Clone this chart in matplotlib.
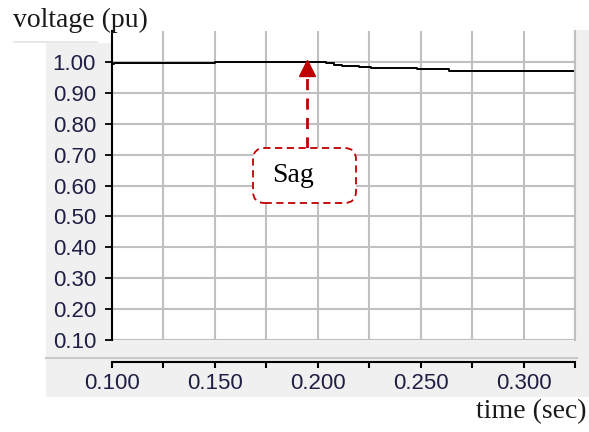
import numpy as np
import matplotlib.pyplot as plt
from matplotlib.patches import FancyBboxPatch, Rectangle
from matplotlib.ticker import MultipleLocator

# voltage trace
time_s = [0.100, 0.101, 0.125, 0.150, 0.175, 0.190, 0.196, 0.200, 0.204,
          0.208, 0.212, 0.216, 0.220, 0.226, 0.232, 0.240, 0.248, 0.256,
          0.262, 0.264, 0.280, 0.300, 0.310, 0.324]
voltage = [0.994, 0.998, 0.998, 0.999, 0.999, 1.000, 1.001, 1.000, 0.995,
           0.990, 0.988, 0.986, 0.984, 0.981, 0.980, 0.979, 0.978, 0.977,
           0.976, 0.972, 0.972, 0.972, 0.972, 0.972]

y_ticks = [0.10, 0.20, 0.30, 0.40, 0.50, 0.60, 0.70, 0.80, 0.90, 1.00]
x_ticks = [0.100, 0.150, 0.200, 0.250, 0.300]

sag_label = "Sag"
sag_time = 0.1946
sag_from, sag_to = 0.72, 0.985

tick_col = '#1f1f45'
red = '#c00000'

fig = plt.figure(figsize=(5.89, 4.32), dpi=100)
W, H = 589, 432
PT = 72 / 100  # points per pixel

def rect(x0, y0, x1, y1, **kw):
    # pixel box (top-left origin) -> figure rectangle
    return Rectangle((x0 / W, 1 - y1 / H), (x1 - x0) / W, (y1 - y0) / H,
                     transform=fig.transFigure, **kw)

# grey panels round the plot
for box in [(46, 43, 112, 358), (46, 340, 589, 397), (575, 30, 589, 397)]:
    fig.add_artist(rect(*box, color='#f0f0f0', lw=0, zorder=0))
fig.add_artist(plt.Line2D([46 / W, 577 / W], [1 - 358 / H] * 2,
                          transform=fig.transFigure, color='#c8c8c8', lw=1.5))
fig.add_artist(plt.Line2D([14 / W, 97 / W], [1 - 42 / H] * 2,
                          transform=fig.transFigure, color='#e4e4e4', lw=1.2))

ax = fig.add_axes([112 / W, 1 - 340 / H, (575 - 112) / W, (340 - 31) / H])
ax.set_xlim(0.100, 0.325)
ax.set_ylim(0.10, 1.10)

ax.plot(time_s, voltage, color='black', lw=1.4, drawstyle='steps-post', zorder=3)

ax.xaxis.set_major_locator(MultipleLocator(0.05))
ax.xaxis.set_minor_locator(MultipleLocator(0.025))
ax.set_xticks(x_ticks)
ax.set_xticklabels([f"{v:.3f}" for v in x_ticks])
ax.set_yticks(y_ticks)
ax.set_yticklabels([f"{v:.2f}" for v in y_ticks])

ax.grid(True, which='both', axis='x', color='#c0c0c0', lw=1.5)
ax.grid(True, which='major', axis='y', color='#c0c0c0', lw=1.5)
ax.set_axisbelow(True)

ax.spines['top'].set_visible(False)
ax.spines['right'].set_color('#c0c0c0')
ax.spines['right'].set_linewidth(1.5)
ax.spines['left'].set_color('black')
ax.spines['left'].set_linewidth(1.5)
ax.spines['bottom'].set_position(('outward', 22 * PT))
ax.spines['bottom'].set_linewidth(1.5)
ax.axhline(0.10, color='#c0c0c0', lw=1.5, zorder=1)

ax.tick_params(axis='y', direction='out', length=7 * PT, width=1.3, pad=9 * PT,
               labelsize=16, labelcolor=tick_col)
ax.tick_params(axis='x', which='both', direction='out', length=6 * PT, width=1.5,
               pad=5 * PT, labelsize=16, labelcolor=tick_col)
for lab in ax.get_xticklabels() + ax.get_yticklabels():
    lab.set_fontfamily('Liberation Sans')

# dashed "Sag" call-out
ax.plot([sag_time, sag_time], [sag_from, sag_to - 0.03], color=red, lw=2,
        ls=(0, (4, 3)), zorder=4)
ax.plot([sag_time], [sag_to - 0.005], marker='^', ms=11, color=red, zorder=5,
        clip_on=False)

bx0, by0 = (253 - 112) / 463, (340 - 203) / 309
bw, bh = 103 / 463, 55 / 309
box = FancyBboxPatch((bx0, by0), bw, bh, transform=ax.transAxes,
                     boxstyle='round,pad=0,rounding_size=0.025',
                     mutation_aspect=463 / 309, fc='white', ec=red, lw=1.3,
                     ls=(0, (4, 2.5)), zorder=4)
ax.add_patch(box)
ax.text(bx0 + bw / 2 - 0.025, by0 + bh / 2, sag_label, transform=ax.transAxes,
        ha='center', va='center', fontsize=20, family='Liberation Serif', zorder=5)

fig.text(13 / W, 1 - 20 / H, "voltage (pu)", ha='left', va='center',
         fontsize=20, family='Liberation Serif', color='#1a1a1a')
fig.text(586 / W, 1 - 412 / H, "time (sec)", ha='right', va='center',
         fontsize=20, family='Liberation Serif', color='#1a1a1a')

fig.savefig('out.png', dpi=100)
